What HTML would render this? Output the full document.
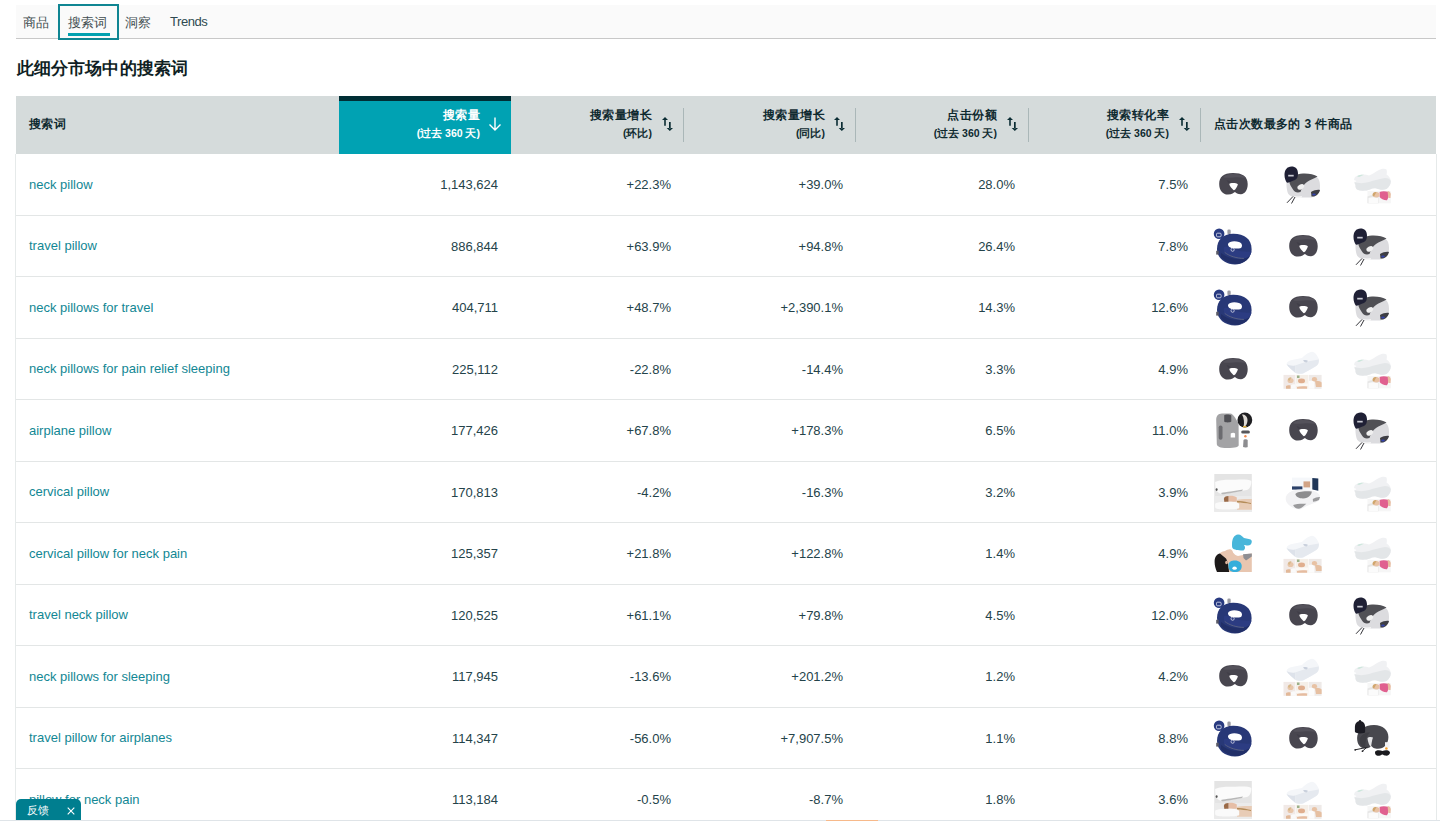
<!DOCTYPE html>
<html><head><meta charset="utf-8">
<style>
*{box-sizing:border-box;margin:0;padding:0}
html,body{width:1440px;height:821px;overflow:hidden;background:#fff}
body{font-family:"Liberation Sans",sans-serif;color:#16191f;position:relative}
.tabs{position:absolute;left:16px;top:5px;width:1420px;height:34px;background:#fafafa;border-bottom:1px solid #c8c8c8}
.tab{position:absolute;top:8.5px;font-size:13px;color:#414d50;white-space:nowrap}
.focus{position:absolute;left:58px;top:4px;width:61px;height:36px;border:2px solid #0f8592}
.uline{position:absolute;left:68px;top:33px;width:42px;height:3px;background:#00a1b0}
h1{position:absolute;left:17px;top:58.5px;font-size:17px;letter-spacing:0.1px;line-height:20px;font-weight:bold;color:#0f1f24;white-space:nowrap}
.hdr{position:absolute;left:16px;top:96px;width:1420px;height:58px;background:#d5dbdb}
.hc{position:absolute;top:96px;height:58px}
.sorted{background:#00a2b3;border-top:5px solid #002e35}
.ht{position:absolute;font-size:12px;letter-spacing:0.4px;font-weight:bold;color:#0f2a30;white-space:nowrap;line-height:15px}
.hs{position:absolute;font-size:10.5px;font-weight:bold;color:#0f2a30;white-space:nowrap;line-height:13px}
.div{position:absolute;top:108px;width:1px;height:34px;background:#aab7b8}
.srt{position:absolute;top:116px;width:13px;height:16px}
.row{position:absolute;left:0;width:1440px}
.row::before{content:"";position:absolute;left:15px;top:0;bottom:0;width:1px;background:#e6eaea}
.row::after{content:"";position:absolute;left:16px;right:4px;bottom:0;height:1px;background:#e3e6e6}
.rb{position:absolute;left:1436px;top:0;bottom:0;width:1px;background:#e6eaea}
.kw{position:absolute;left:29px;top:50%;margin-top:-8.5px;line-height:16px;font-size:13px;color:#128794;white-space:nowrap}
.num{position:absolute;top:50%;margin-top:-8px;line-height:16px;font-size:13px;color:#24434a;white-space:nowrap}
.pi{position:absolute;top:50%;margin-top:-20px;width:40px;height:40px}
.fb{position:absolute;left:16px;top:799px;width:64.5px;height:21px;background:#007e8f;border-radius:5px 5px 0 0;color:#fff}
.fb span{position:absolute;top:5px;left:11px;font-size:11px;line-height:12px}
.fb .x{left:51px;top:5px;font-size:10px}
.bl{position:absolute;left:0;top:820px;width:1440px;height:1px;background:#dfe4e8}
</style></head>
<body>
<svg width="0" height="0" style="position:absolute">
<defs>
<g id="pA"><path d="M6.2 19C6.2 12 10 7.9 20 7.9C29 7.9 34.7 11 34.7 19C34.7 25 32 29 28 29.2C25 29.3 23 28 22 27C21 27.5 19 29.6 15 29.6C9.5 29.6 6.2 25 6.2 19Z" fill="#48464f"/><path d="M10 12C13 9.5 17 9 20.5 9C25 9 30 10 33 13C29 12.5 25 12 20.5 12.5C16 12.5 12.5 13.5 10 12Z" fill="#54525b"/><path d="M13.5 15C15.5 15.5 17 16.5 18 17.6L16 18.6C15 17.5 14 16.3 13.5 15Z" fill="#403e48"/><path d="M16.3 19C17 17.6 23.5 17.6 24.9 19.2C24.5 21.5 22.5 24.5 21 25.3C19.5 24.5 16.8 21.5 16.3 19Z" fill="#fff"/></g>
<g id="pB"><path d="M3.5 17C4 13 8 11 12 11L33 11.5C36 13 37.2 17 37 22C36.8 28 33 32.6 26 32.6L16 32.6C10 32.6 5.5 31 4.5 27C3.6 24 3.3 20 3.5 17Z" fill="#dcdcdf"/><path d="M6.3 16C8 12 13 9 20 8.5C26 8.3 31 9.2 34.5 11.5C31 13.5 27 15 24 17C21 19 19 22 17.5 27C14 28 11.5 27 10 24.5C8 21.5 6.3 19 6.3 16Z" fill="#505055"/><ellipse cx="17.8" cy="21.9" rx="3.6" ry="2.4" transform="rotate(-30 17.8 21.9)" fill="#f0f0f0"/><path d="M10.5 31C13 31.5 17 31.5 19 31L18.5 33L11 33Z" fill="#f7f7f7"/><path d="M28 27C31 25 35 24.5 37 25C36 29 33 31.5 30 31.5L28.5 31.5Z" fill="#3e3e44"/><ellipse cx="31" cy="29.5" rx="1.8" ry="1.1" fill="#3343b0"/><path d="M1.5 10C1.5 5 4 1.5 8.5 1.5C12.5 1.5 15 4 15 8.5C15 12 14 14 12 15C9 16 6 17.5 4 17.8C2.5 16 1.5 13 1.5 10Z" fill="#1f2035"/><rect x="5.2" y="9.8" width="5.5" height="1.7" fill="#c8c9d2"/><path d="M10 31.5L4 37.8M12 32L8.5 38.5" stroke="#35353a" stroke-width="1" fill="none"/></g>
<g id="pC"><path d="M2 16C2 13 3 11.5 5 11C8 9.5 13 9 17 10.5C20 9.5 23 7 27 5C30 3.5 33 3.2 34.5 4.5C35 6 35 8 34.5 9.5C37 11 38.8 13.5 38.8 16.5C38.8 19.5 37 22 34.5 24C31 25.5 27 24.5 24.5 23.5C22 23 20 23.5 18 24.5C14 26 9 26 6 25C4 24.5 3.2 22 3.5 20C2.5 19 2 17.5 2 16Z" fill="#f0f1f3"/><path d="M2.5 17C6 18.5 12 18.5 17 17C22 15.5 28 13.5 33 13C36 13 38 14 38.8 16C38.8 19.5 37 22 34.5 24C31 25.5 27 24.5 24.5 23.5C22 23 20 23.5 18 24.5C14 26 9 26 6 25C4 24.5 3.2 22 3.5 20Z" fill="#e3e6e8"/><path d="M5 11.2C7 10 10 9.6 12 9.8L7 12Z" fill="#cde6dc"/><path d="M2 15L4.5 16L2.3 17.5Z" fill="#fff"/><rect x="15.5" y="26" width="23.3" height="12.3" fill="#f6f6f6"/><path d="M15.5 31.5C18 30 23 30 26.5 31L26.5 38.3L15.5 38.3Z" fill="#e6e6e6"/><path d="M16.5 33C19 32 23 32 26 33L26 38L16.5 38Z" fill="#fbfbfb"/><path d="M27.6 27C30 26 34 26.2 36.4 27C36.8 30 36.5 33 35 35.3C32 35.5 29 34 27.6 32Z" fill="#e0608f"/><path d="M35.5 26C37 26 38.5 27 38.8 29L38.5 33L36.4 33Z" fill="#e8bca0"/><ellipse cx="24.2" cy="29.8" rx="3.4" ry="2.7" fill="#e8c2a4"/><path d="M20.5 30.5C20.5 28 22 27 24.5 27.1L22 31.5Z" fill="#cfa66c"/></g>
<g id="pD"><circle cx="6.1" cy="6.8" r="5.3" fill="#283a80"/><rect x="3.5" y="6.2" width="4.6" height="3.6" rx="1" fill="none" stroke="#e6e8f2" stroke-width="0.8"/><rect x="14.4" y="2.4" width="3.3" height="5" rx="1.3" fill="#9c9ca4"/><path d="M4 22C4 13 10 7 20 6.8C31 6.6 38.6 12 38.6 22C38.6 31 31 37.5 22 37.5C12 37.5 4 31 4 22Z" fill="#283877"/><path d="M15 17C16 14 22 13.6 26 15C29 16 30 19 28 21C25 22 20 21.6 17 20.5C15.5 19.5 14.8 18 15 17Z" fill="#fff"/><path d="M11.2 20C14 19 18 21 22 22.5C28 24.5 34 25 38.5 24.5C38 28 35 31 30.9 31.4C24 31.5 16 29 11.7 25.4C10.5 23.5 10.5 21 11.2 20Z" fill="#2c3c82"/><path d="M8 30C12 34 18 37 24 37C30 36.5 35 33 37 29C34 31.5 30 32 25 32C18 32 12 29 8 26Z" fill="#212f68"/><path d="M11.7 25.4C16 29 24 31.5 30.9 31.4" stroke="#6c7085" stroke-width="0.7" fill="none"/><circle cx="19.6" cy="22.7" r="1.6" fill="none" stroke="#e6e8f2" stroke-width="0.7"/><rect x="3.2" y="23.8" width="2.5" height="3.8" fill="#5a5a66"/></g>
<g id="pE"><path d="M3.2 9C3.2 5 5 2.6 9 2.5L17 2.4C19 2.6 20.5 4 22 6.5L25.6 12.5L25.7 34C25.7 36 23 37 14 37C7 37 4 35.5 3.8 33Z" fill="#a3a3a5"/><path d="M11.2 4.3C12.5 3.3 16.5 3.3 18.3 4.5L18.3 10.5C17 11.7 12.5 11.7 11.2 10.5Z" fill="#505055"/><rect x="5.7" y="14.5" width="3.8" height="14.3" rx="1.8" fill="#6b6b6f"/><path d="M17.7 22.5C19 21.6 21.5 21.6 22.1 22.5L22.1 26.6L17.7 26.6Z" fill="#fff"/><circle cx="31.85" cy="9" r="7.4" fill="#1f1f22"/><path d="M29 3.5C32 3.5 34.5 5.5 34.5 9C34.5 12.5 33 15.5 30.5 16C31.5 12 31 7 29 3.5Z" fill="#dedad4"/><rect x="30" y="15" width="3.5" height="1.5" fill="#e0b040"/><rect x="28.2" y="19.4" width="8.7" height="3" rx="1.5" fill="#57575b"/><circle cx="32.4" cy="25.3" r="1.2" fill="#f08a50"/><path d="M30.5 29C31 28 34 28 34.7 29L34.7 36C34 36.6 31 36.6 30.1 36Z" fill="#8d8d90"/></g>
<g id="pF"><rect x="1.3" y="1" width="37.5" height="37.8" fill="#e4e4e4"/><rect x="1.3" y="23" width="37.5" height="15.8" fill="#ebebeb"/><path d="M2.1 9C6 7 14 6.5 22 6.8C30 6.2 36 6.5 38.3 8C38.5 12 37 16 34 17C28 18 20 19 12 21C7 21.5 3.5 19 2.5 16Z" fill="#fbfbfb"/><path d="M8 20C13 19 22 18 30 16.5L29 18C22 19.5 14 21 9 21.3Z" fill="#b8b8b8"/><ellipse cx="3.6" cy="16.6" rx="1" ry="1.3" fill="#555"/><path d="M23.8 27C27 25.8 34 25.8 38.8 26L38.8 36.7L24 36.7Z" fill="#e8ccb6"/><path d="M24 28C29 27.5 34 29 38 30L38 31C33 30 28 29.5 24 29.5Z" fill="#b48c58"/><path d="M15.5 23C18 22.5 22 23 23.8 24.5L23.8 28.7L15.5 28.7Z" fill="#e6bea6"/><path d="M10.9 26C10.9 24 12.5 23 15.5 23L15.5 29.8L11.5 29.8Z" fill="#9a6a48"/><path d="M2.1 31C2.1 29.5 8 28.7 16 28.7C22 28.7 26.2 29.5 26.2 31.5L26.2 35C25 36.4 18 36.4 10 36.4C5 36.4 2.1 35.5 2.1 34Z" fill="#fafafa"/></g>
<g id="pG"><rect x="9" y="4.6" width="20.3" height="12" fill="#f5f7fa"/><path d="M9 13.4L19.4 13.4L19.4 16.6L9 16.6Z" fill="#2a4068"/><rect x="20.5" y="8.4" width="6.6" height="6" fill="#d2a486"/><path d="M29.3 5.1L35.3 5.6L35.3 17.7L29.3 16.6Z" fill="#1e3558"/><path d="M2.7 26C2.7 21 8 16.6 18 16.6C28 16.6 37 19 37 24C37 28 34 29 30 30.5C26 32 22 34 17 36.4C10 36.4 2.7 31 2.7 26Z" fill="#f2f2f4"/><path d="M12.3 21C14 18.5 22 17.7 28.8 18.5C28.5 22 26 25 20 25.4C16 25.4 13 24 12.3 21Z" fill="#8c8c8e"/><path d="M10.1 32C13 31 18 30.4 23.3 30.8C21 33 19 35 16 35.8C13 35.8 11 34 10.1 32Z" fill="#9a9a9c"/><path d="M29.8 26C32 24.5 35 23.8 37 24L36 27C34 28 32 28.5 30 28.7Z" fill="#9a9a9c"/></g>
<g id="pH"><path d="M19 10C19 5 21 1 25 0.6C28 0.5 29 2.5 31 4C34 5 38 4.5 38.8 7C39 10 37 11.5 35 11.5C33 11.5 32 11 31 11C32.5 13 32.5 15 30.5 16.4C26 16.5 21 16 19.5 14C19 13 19 11.5 19 10Z" fill="#48b6da"/><path d="M5 22C6 19 9 17.5 12 17C14 16 16 15 18 15.5C19 16 20 17.5 20 18.5C21 20 23 21.5 25 22C28 21.5 32 20 38.8 19.4L38.8 38L16 38L12 30C9 28 6 25 5 22Z" fill="#e8c6b0"/><path d="M30 20.2L38.8 19.4L38.8 22.5L33 26.5L30.5 24Z" fill="#8e8e92"/><path d="M1.6 28C1.6 22.5 4 20 7 19.5C9 21 11 23 13 24.5C14.5 27 15.5 31 16.1 38L4 38C2.5 35 1.6 31 1.6 28Z" fill="#1d1a1a"/><ellipse cx="13.5" cy="28.5" rx="1.3" ry="1.8" fill="#dcb49c"/><path d="M15.5 31C15.5 28 18.5 26.6 22 26.6C26 26.6 28.7 29 28.7 32C28.7 36 26 38 22 38C18 38 15.5 36 15.5 33Z" fill="#35aedb"/><ellipse cx="21.6" cy="34.2" rx="2.2" ry="1.6" fill="#fff"/></g>
<g id="pI"><path d="M3.5 14C4 12 6 10.5 9 10L19 8C22 5 26 2 29 1.8C32 2 34 5 35.9 9C36 12 35.5 14 34 15.5C30 18 25 21 20 23.5C17 24 14 23.8 12.5 23C9 20 5 17 3.5 14Z" fill="#f4f6f9"/><path d="M3.5 14C6 15.5 9 16 12 15.5L12.5 23C9 20 5 17 3.5 14Z" fill="#dde2ea"/><path d="M12 15.5C17 14 22 12 27 11C30 10.5 33 10 35.9 9.5C36 12 35.5 14 34 15.5C30 18 25 21 20 23.5C17 24 14 23.8 12.5 23Z" fill="#e5e9ef"/><path d="M20 10.5C22 9.8 24 10 25 11L23.5 12.5C22 12.5 21 11.5 20 10.5Z" fill="#c9d0dc"/><rect x="0.5" y="24.9" width="11.8" height="13.9" fill="#f1e9e6"/><rect x="12.8" y="24.9" width="12.6" height="13.9" fill="#f5efe8"/><rect x="25.9" y="24.9" width="12.7" height="13.9" fill="#eeeae8"/><ellipse cx="7.5" cy="30.5" rx="3" ry="2.6" fill="#e8c6aa"/><path d="M5 30C5 28 6.5 27 8.5 27.3L6.5 31Z" fill="#d8b88a"/><path d="M8 35C9.5 34 11 34 12.3 34.5L12.3 38.8L8 38.8Z" fill="#fafafa"/><path d="M3 36C4 35 6 35 7.5 35.5L7.5 38.8L3 38.8Z" fill="#e2b898"/><rect x="14" y="25.5" width="2.5" height="2.5" fill="#9ab088"/><ellipse cx="18.5" cy="31" rx="3.5" ry="2.4" fill="#e0ae8e"/><rect x="13" y="33.5" width="12" height="2.5" fill="#fcf9f6"/><path d="M14 37C17 36 21 36 24 36.5L24 38.8L14 38.8Z" fill="#e6bca0"/><ellipse cx="31.5" cy="29.3" rx="2.6" ry="2.3" fill="#e8c2a4"/><path d="M26 31C28 30.5 30 31 31.5 32L31.5 38.8L26 38.8Z" fill="#fcfcfc"/><path d="M32 31C35 30.5 37.5 31.5 38.6 32.5L38.6 37L33 37Z" fill="#e6c0a2"/></g>
<g id="pJ"><path d="M5.1 19C5.1 12 12 6 22 6C31 6 36.4 11 36.4 18C36.4 25 32 29.8 26 29.8C22 29.8 20.5 28.5 19.5 27C18 28.5 16 29.5 13.5 29.5C8 29.5 5.1 25 5.1 19Z" fill="#48484e"/><path d="M8 19C10 15 14 13 18 13.5C16 15 14.5 18 14 21C13.5 24 13 27 13 29C9 28 7 24 8 19Z" fill="#3e3e44"/><path d="M15.5 19C16.5 17.7 20 17.7 21 18.5C20 21 19.5 25 19 28.2C17.5 27 15.8 23 15.5 19Z" fill="#e4e4e6"/><path d="M2.9 8C2.9 4 5 2.2 8 2.2C11 2.2 13.1 4 13.1 8L13.1 13C13.1 14 11 14.4 8 14.4C4.5 14.4 2.9 13.5 2.9 12.5Z" fill="#1c1c24"/><circle cx="8" cy="2.3" r="1.2" fill="#1c1c24"/><path d="M15.5 28.2L2.9 30.9M14.4 28.7L10.3 32.3" stroke="#2a2a2e" stroke-width="1" fill="none"/><circle cx="3.2" cy="30.8" r="0.9" fill="#2a2a2e"/><circle cx="10.5" cy="32.2" r="0.9" fill="#2a2a2e"/><rect x="33" y="23.2" width="4.5" height="5.5" fill="#f2f2f4"/><circle cx="34.4" cy="29.5" r="1.3" fill="#f5a030"/><path d="M23 33C23.5 31 28 30.9 30.5 32C33 30.9 37.5 31 38 33.5C38 36 35.5 37 33 36.5C31.5 36 30.5 35.5 30 35.5C29 36.5 27 37 25.5 36.8C23.5 36.5 23 35 23 33Z" fill="#1a1a1e"/></g>
</defs></svg>
<div class="tabs">
  <span class="tab" style="left:7px">商品</span>
  <span class="tab" style="left:52px">搜索词</span>
  <span class="tab" style="left:109px">洞察</span>
  <span class="tab" style="left:154px;letter-spacing:-0.45px;color:#2f4a50">Trends</span>
</div>
<div class="focus"></div>
<div class="uline"></div>
<h1>此细分市场中的搜索词</h1>
<div class="hdr"></div>
<div class="hc sorted" style="left:339px;width:172px"></div>
<span class="ht" style="left:29px;top:117px">搜索词</span>
<span class="ht" style="right:960px;top:108px;color:#fff">搜索量</span>
<span class="hs" style="right:960px;top:127px;color:#fff">(过去 360 天)</span>
<svg style="position:absolute;left:488px;top:117px;width:14px;height:14px" viewBox="0 0 14 14"><path d="M7 0.5v12.5M1.5 7.5L7 13l5.5-5.5" fill="none" stroke="#fff" stroke-width="1.4"/></svg>
<span class="ht" style="right:788px;top:108px">搜索量增长</span>
<span class="hs" style="right:788px;top:127px">(环比)</span>
<svg class="srt" style="left:661px" viewBox="0 0 13 16"><path d="M1 4L4 0.9L7 4Z M3.2 3.8h1.6v5.9h-1.6Z M8 6h1.7v6.2H8Z M5.7 12L8.85 15.1L12 12Z" fill="#0a2c33"/></svg>
<div class="div" style="left:683px"></div>
<span class="ht" style="right:615px;top:108px">搜索量增长</span>
<span class="hs" style="right:615px;top:127px">(同比)</span>
<svg class="srt" style="left:833px" viewBox="0 0 13 16"><path d="M1 4L4 0.9L7 4Z M3.2 3.8h1.6v5.9h-1.6Z M8 6h1.7v6.2H8Z M5.7 12L8.85 15.1L12 12Z" fill="#0a2c33"/></svg>
<div class="div" style="left:855px"></div>
<span class="ht" style="right:443px;top:108px">点击份额</span>
<span class="hs" style="right:443px;top:127px">(过去 360 天)</span>
<svg class="srt" style="left:1006px" viewBox="0 0 13 16"><path d="M1 4L4 0.9L7 4Z M3.2 3.8h1.6v5.9h-1.6Z M8 6h1.7v6.2H8Z M5.7 12L8.85 15.1L12 12Z" fill="#0a2c33"/></svg>
<div class="div" style="left:1028px"></div>
<span class="ht" style="right:271px;top:108px">搜索转化率</span>
<span class="hs" style="right:271px;top:127px">(过去 360 天)</span>
<svg class="srt" style="left:1178px" viewBox="0 0 13 16"><path d="M1 4L4 0.9L7 4Z M3.2 3.8h1.6v5.9h-1.6Z M8 6h1.7v6.2H8Z M5.7 12L8.85 15.1L12 12Z" fill="#0a2c33"/></svg>
<div class="div" style="left:1200px"></div>
<span class="ht" style="left:1214px;top:117px">点击次数最多的 3 件商品</span>
<div class="row" style="top:154px;height:62px"><span class="kw">neck pillow</span><span class="num" style="right:942px">1,143,624</span><span class="num" style="right:769px">+22.3%</span><span class="num" style="right:597px">+39.0%</span><span class="num" style="right:425px">28.0%</span><span class="num" style="right:252px">7.5%</span><svg class="pi" style="left:1213.0px" viewBox="0 0 40 40"><use href="#pA"/></svg><svg class="pi" style="left:1282.5px" viewBox="0 0 40 40"><use href="#pB"/></svg><svg class="pi" style="left:1352.0px" viewBox="0 0 40 40"><use href="#pC"/></svg></div>
<div class="row" style="top:216px;height:61px"><span class="kw">travel pillow</span><span class="num" style="right:942px">886,844</span><span class="num" style="right:769px">+63.9%</span><span class="num" style="right:597px">+94.8%</span><span class="num" style="right:425px">26.4%</span><span class="num" style="right:252px">7.8%</span><svg class="pi" style="left:1213.0px" viewBox="0 0 40 40"><use href="#pD"/></svg><svg class="pi" style="left:1282.5px" viewBox="0 0 40 40"><use href="#pA"/></svg><svg class="pi" style="left:1352.0px" viewBox="0 0 40 40"><use href="#pB"/></svg></div>
<div class="row" style="top:277px;height:62px"><span class="kw">neck pillows for travel</span><span class="num" style="right:942px">404,711</span><span class="num" style="right:769px">+48.7%</span><span class="num" style="right:597px">+2,390.1%</span><span class="num" style="right:425px">14.3%</span><span class="num" style="right:252px">12.6%</span><svg class="pi" style="left:1213.0px" viewBox="0 0 40 40"><use href="#pD"/></svg><svg class="pi" style="left:1282.5px" viewBox="0 0 40 40"><use href="#pA"/></svg><svg class="pi" style="left:1352.0px" viewBox="0 0 40 40"><use href="#pB"/></svg></div>
<div class="row" style="top:339px;height:61px"><span class="kw">neck pillows for pain relief sleeping</span><span class="num" style="right:942px">225,112</span><span class="num" style="right:769px">-22.8%</span><span class="num" style="right:597px">-14.4%</span><span class="num" style="right:425px">3.3%</span><span class="num" style="right:252px">4.9%</span><svg class="pi" style="left:1213.0px" viewBox="0 0 40 40"><use href="#pA"/></svg><svg class="pi" style="left:1282.5px" viewBox="0 0 40 40"><use href="#pI"/></svg><svg class="pi" style="left:1352.0px" viewBox="0 0 40 40"><use href="#pC"/></svg></div>
<div class="row" style="top:400px;height:62px"><span class="kw">airplane pillow</span><span class="num" style="right:942px">177,426</span><span class="num" style="right:769px">+67.8%</span><span class="num" style="right:597px">+178.3%</span><span class="num" style="right:425px">6.5%</span><span class="num" style="right:252px">11.0%</span><svg class="pi" style="left:1213.0px" viewBox="0 0 40 40"><use href="#pE"/></svg><svg class="pi" style="left:1282.5px" viewBox="0 0 40 40"><use href="#pA"/></svg><svg class="pi" style="left:1352.0px" viewBox="0 0 40 40"><use href="#pB"/></svg></div>
<div class="row" style="top:462px;height:61px"><span class="kw">cervical pillow</span><span class="num" style="right:942px">170,813</span><span class="num" style="right:769px">-4.2%</span><span class="num" style="right:597px">-16.3%</span><span class="num" style="right:425px">3.2%</span><span class="num" style="right:252px">3.9%</span><svg class="pi" style="left:1213.0px" viewBox="0 0 40 40"><use href="#pF"/></svg><svg class="pi" style="left:1282.5px" viewBox="0 0 40 40"><use href="#pG"/></svg><svg class="pi" style="left:1352.0px" viewBox="0 0 40 40"><use href="#pC"/></svg></div>
<div class="row" style="top:523px;height:62px"><span class="kw">cervical pillow for neck pain</span><span class="num" style="right:942px">125,357</span><span class="num" style="right:769px">+21.8%</span><span class="num" style="right:597px">+122.8%</span><span class="num" style="right:425px">1.4%</span><span class="num" style="right:252px">4.9%</span><svg class="pi" style="left:1213.0px" viewBox="0 0 40 40"><use href="#pH"/></svg><svg class="pi" style="left:1282.5px" viewBox="0 0 40 40"><use href="#pI"/></svg><svg class="pi" style="left:1352.0px" viewBox="0 0 40 40"><use href="#pC"/></svg></div>
<div class="row" style="top:585px;height:61px"><span class="kw">travel neck pillow</span><span class="num" style="right:942px">120,525</span><span class="num" style="right:769px">+61.1%</span><span class="num" style="right:597px">+79.8%</span><span class="num" style="right:425px">4.5%</span><span class="num" style="right:252px">12.0%</span><svg class="pi" style="left:1213.0px" viewBox="0 0 40 40"><use href="#pD"/></svg><svg class="pi" style="left:1282.5px" viewBox="0 0 40 40"><use href="#pA"/></svg><svg class="pi" style="left:1352.0px" viewBox="0 0 40 40"><use href="#pB"/></svg></div>
<div class="row" style="top:646px;height:62px"><span class="kw">neck pillows for sleeping</span><span class="num" style="right:942px">117,945</span><span class="num" style="right:769px">-13.6%</span><span class="num" style="right:597px">+201.2%</span><span class="num" style="right:425px">1.2%</span><span class="num" style="right:252px">4.2%</span><svg class="pi" style="left:1213.0px" viewBox="0 0 40 40"><use href="#pA"/></svg><svg class="pi" style="left:1282.5px" viewBox="0 0 40 40"><use href="#pI"/></svg><svg class="pi" style="left:1352.0px" viewBox="0 0 40 40"><use href="#pC"/></svg></div>
<div class="row" style="top:708px;height:61px"><span class="kw">travel pillow for airplanes</span><span class="num" style="right:942px">114,347</span><span class="num" style="right:769px">-56.0%</span><span class="num" style="right:597px">+7,907.5%</span><span class="num" style="right:425px">1.1%</span><span class="num" style="right:252px">8.8%</span><svg class="pi" style="left:1213.0px" viewBox="0 0 40 40"><use href="#pD"/></svg><svg class="pi" style="left:1282.5px" viewBox="0 0 40 40"><use href="#pA"/></svg><svg class="pi" style="left:1352.0px" viewBox="0 0 40 40"><use href="#pJ"/></svg></div>
<div class="row" style="top:769px;height:62px"><span class="kw">pillow for neck pain</span><span class="num" style="right:942px">113,184</span><span class="num" style="right:769px">-0.5%</span><span class="num" style="right:597px">-8.7%</span><span class="num" style="right:425px">1.8%</span><span class="num" style="right:252px">3.6%</span><svg class="pi" style="left:1213.0px" viewBox="0 0 40 40"><use href="#pF"/></svg><svg class="pi" style="left:1282.5px" viewBox="0 0 40 40"><use href="#pI"/></svg><svg class="pi" style="left:1352.0px" viewBox="0 0 40 40"><use href="#pC"/></svg></div>
<div class="rb" style="top:154px;height:667px;position:absolute"></div>
<div class="bl"></div><div style="position:absolute;left:826px;top:820px;width:52px;height:1px;background:#f7b98a"></div>
<div class="fb"><span>反馈</span><svg style="position:absolute;left:51px;top:7.5px;width:8px;height:8px" viewBox="0 0 8 8"><path d="M0.7 0.7L7.3 7.3M7.3 0.7L0.7 7.3" stroke="#fff" stroke-width="1.1"/></svg></div>
</body></html>
